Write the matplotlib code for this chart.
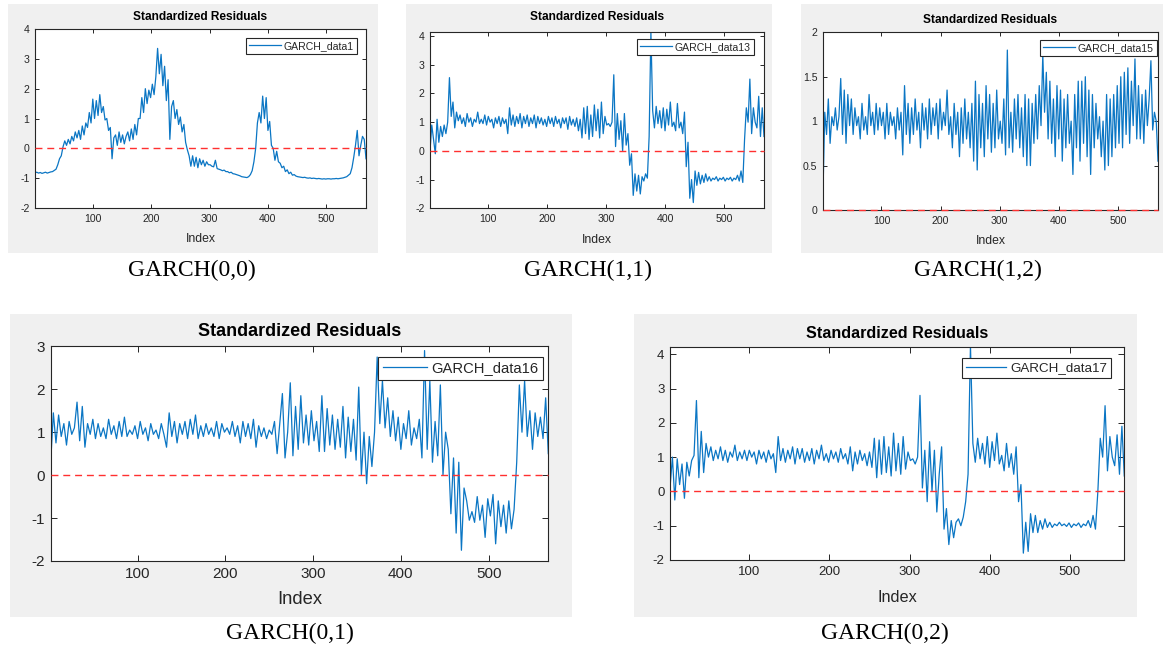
import numpy as np
import matplotlib
matplotlib.use("Agg")
import matplotlib.pyplot as plt
from matplotlib.patches import Rectangle

plt.rcParams["font.family"] = ["Liberation Sans", "DejaVu Sans"]

# Observation index: every third sample of the 568-point residual series
index = np.arange(1, 569, 3)

resid_garch00 = [
    -0.82, -0.80, -0.83, -0.81, -0.84, -0.82, -0.80, -0.83, -0.81, -0.79,
    -0.78, -0.74, -0.70, -0.55, -0.35, -0.25, 0.05, 0.25, 0.10, 0.30,
    0.15, 0.40, 0.25, 0.55, 0.35, 0.60, 0.30, 0.75, 0.45, 0.85,
    0.70, 1.20, 0.85, 1.65, 1.00, 1.60, 1.10, 1.80, 1.20, 1.40,
    0.95, 1.00, 0.60, 0.70, -0.35, 0.35, 0.45, 0.10, 0.55, 0.20,
    0.45, 0.15, 0.40, 0.55, 0.25, 0.65, 0.30, 0.80, 0.45, 1.00,
    1.00, 1.70, 1.20, 2.00, 1.50, 1.95, 1.70, 2.15, 1.80, 2.40,
    3.35, 2.50, 3.15, 2.10, 2.75, 1.60, 2.30, 0.30, 1.40, 1.60,
    1.00, 1.30, 0.80, 1.05, 0.55, 0.80, 0.20, -0.05, -0.25, -0.60,
    -0.25, -0.60, -0.30, -0.65, -0.35, -0.55, -0.40, -0.60, -0.45, -0.55,
    -0.55, -0.60, -0.62, -0.40, -0.68, -0.70, -0.72, -0.75, -0.73, -0.78,
    -0.78, -0.82, -0.80, -0.85, -0.86, -0.88, -0.90, -0.92, -0.95, -0.96,
    -0.97, -0.98, -0.95, -0.88, -0.75, -0.45, 0.00, 0.85, 1.20, 0.85,
    1.75, 1.00, 1.70, 0.60, 0.90, 0.10, 0.00, -0.40, -0.10, -0.45,
    -0.50, -0.65, -0.60, -0.78, -0.72, -0.85, -0.80, -0.90, -0.88, -0.93,
    -0.95, -0.96, -0.97, -0.98, -0.97, -0.99, -1.00, -0.99, -1.01, -1.00,
    -1.01, -1.02, -1.01, -1.02, -1.03, -1.02, -1.03, -1.02, -1.02, -1.03,
    -1.02, -1.02, -1.01, -1.02, -1.01, -1.00, -0.99, -0.97, -0.95, -0.90,
    -0.85, -0.65, -0.30, 0.10, 0.60, -0.25, 0.10, 0.40, 0.30, -0.35,
]

resid_garch11 = [
    0.00, 0.90, 0.40, -0.10, 1.10, 0.30, 0.85, 0.50, 0.90, 0.60,
    1.00, 2.55, 1.20, 1.70, 0.80, 1.35, 1.05, 1.25, 0.95, 1.15,
    0.85, 1.30, 1.00, 1.15, 0.85, 1.10, 1.00, 1.35, 0.95, 1.10,
    0.95, 1.25, 0.90, 1.20, 1.00, 1.10, 0.80, 1.15, 0.95, 1.20,
    0.85, 1.15, 0.95, 1.10, 0.60, 1.50, 0.90, 1.25, 0.85, 1.20,
    0.95, 1.30, 0.80, 1.20, 0.95, 1.25, 0.85, 1.15, 0.95, 1.25,
    0.80, 1.20, 0.95, 1.15, 0.90, 1.10, 0.85, 1.20, 0.95, 1.15,
    0.85, 1.20, 0.95, 1.10, 0.80, 1.15, 0.95, 1.15, 0.75, 1.20,
    0.90, 1.10, 0.85, 1.15, 0.70, 1.10, 0.45, 1.50, 0.60, 1.55,
    0.40, 1.25, 0.50, 1.60, 0.70, 1.45, 0.45, 1.70, 0.60, 1.20,
    0.90, 0.95, 0.85, 1.00, 2.65, 0.15, 1.30, 0.40, 1.05, 0.00,
    1.30, 0.20, 0.60, -0.50, -0.10, -1.55, -0.80, -1.40, -0.85, -1.50,
    -0.90, -1.05, -0.80, -0.95, 0.50, 4.15, 1.40, 0.80, 1.55, 0.95,
    1.40, 0.80, 1.50, 0.70, 1.45, 0.90, 1.70, 0.85, 1.00, 0.70,
    1.65, 0.80, 1.00, 0.60, 1.35, -0.55, 0.30, -1.65, -1.00, -1.80,
    -0.70, -1.20, -0.75, -1.15, -0.85, -1.10, -0.80, -1.05, -0.90, -1.05,
    -0.95, -1.00, -0.90, -1.05, -0.95, -1.00, -0.92, -1.05, -0.95, -1.00,
    -0.92, -1.05, -0.95, -1.00, -0.85, -1.05, -0.70, -1.10, 0.40, 1.50,
    1.00, 2.50, 0.60, 1.50, 1.00, 0.80, 1.90, 0.50, 1.50, 0.50,
]

resid_garch12 = [
    0.20, 1.10, 0.85, 1.25, 0.75, 1.05, 0.95, 1.15, 0.90, 1.05,
    1.48, 0.85, 1.35, 0.75, 1.30, 0.95, 1.25, 0.85, 1.15, 0.95,
    1.05, 0.80, 1.20, 0.90, 1.05, 0.85, 1.30, 0.95, 1.10, 0.85,
    1.20, 0.90, 1.15, 0.95, 1.10, 0.80, 1.20, 0.85, 1.10, 0.95,
    1.05, 0.80, 1.15, 0.90, 1.10, 0.62, 1.40, 0.85, 1.20, 0.75,
    1.15, 0.85, 1.25, 0.90, 1.10, 0.70, 1.20, 0.90, 1.15, 0.80,
    1.25, 0.85, 1.15, 0.95, 1.20, 0.80, 1.25, 0.90, 1.10, 0.95,
    1.35, 0.85, 1.05, 0.70, 1.20, 0.85, 1.10, 0.60, 1.15, 0.75,
    1.25, 0.80, 1.10, 0.70, 1.20, 0.55, 1.45, 0.45, 1.30, 0.70,
    1.20, 0.60, 1.40, 0.80, 1.30, 0.65, 1.20, 0.70, 1.35, 0.80,
    1.00, 0.75, 1.25, 0.62, 1.80, 0.70, 1.10, 0.65, 1.25, 0.80,
    1.30, 0.70, 1.15, 0.60, 1.30, 0.50, 1.25, 0.50, 1.20, 0.75,
    1.30, 0.80, 1.40, 0.95, 1.75, 1.10, 1.55, 0.80, 1.45, 0.75,
    1.25, 0.60, 1.40, 0.80, 1.35, 0.55, 1.25, 0.70, 1.30, 0.75,
    1.00, 0.40, 1.30, 0.70, 1.45, 0.55, 1.45, 0.75, 1.50, 0.60,
    1.35, 0.40, 1.30, 0.70, 1.20, 0.80, 1.05, 0.60, 1.00, 0.45,
    1.30, 0.50, 1.25, 0.60, 1.30, 0.70, 1.40, 0.75, 1.50, 0.70,
    1.55, 0.85, 1.60, 0.75, 1.45, 0.95, 1.70, 0.80, 1.40, 0.80,
    1.30, 0.75, 1.35, 0.95, 1.25, 1.68, 0.90, 1.10, 1.00, 0.55,
]

resid_garch01 = [
    0.30, 1.45, 0.75, 1.40, 0.90, 1.20, 0.70, 1.25, 0.95, 1.10,
    1.70, 0.80, 1.60, 0.65, 1.20, 0.95, 1.30, 0.85, 1.20, 0.90,
    1.10, 0.85, 1.30, 0.95, 1.15, 0.85, 1.25, 0.90, 1.35, 0.90,
    1.05, 0.95, 1.15, 0.85, 1.25, 0.95, 1.10, 0.80, 1.20, 0.95,
    1.05, 0.85, 1.20, 0.95, 0.65, 1.45, 0.90, 1.25, 0.75, 1.20,
    0.95, 1.25, 0.85, 1.30, 0.95, 1.40, 0.85, 1.15, 0.90, 1.20,
    0.95, 1.10, 0.90, 1.25, 0.85, 1.20, 1.00, 1.10, 0.95, 1.25,
    0.90, 1.15, 0.75, 1.25, 0.90, 1.20, 0.85, 1.30, 0.65, 1.15,
    0.90, 1.10, 0.85, 1.05, 0.95, 1.25, 0.50, 1.20, 1.90, 0.40,
    1.00, 2.15, 0.45, 1.60, 0.60, 1.85, 0.75, 1.40, 0.70, 1.50,
    0.80, 1.25, 0.55, 1.85, 0.55, 1.55, 0.70, 1.40, 0.60, 1.30,
    0.65, 1.60, 0.40, 1.35, 0.55, 1.30, 0.35, 2.05, 0.00, 1.00,
    -0.20, 0.90, 0.20, 1.00, 2.75, 1.20, 2.20, 1.10, 1.80, 0.90,
    1.50, 0.80, 1.35, 0.60, 1.20, 0.85, 1.50, 0.70, 1.10, 0.85,
    1.30, 0.40, 2.90, 0.60, 2.20, 0.30, 1.25, 0.45, 2.10, 0.00,
    1.00, 0.60, -0.90, 0.40, -1.35, 0.30, -1.75, -0.30, -0.60, -1.05,
    -0.85, -1.10, -0.50, -1.05, -0.70, -1.45, -0.55, -0.95, -0.45, -1.60,
    -0.60, -1.20, -0.70, -1.35, -0.60, -1.25, -0.80, 0.30, 2.10, 1.00,
    2.20, 0.90, 1.50, 0.60, 1.45, 0.90, 1.35, 0.85, 1.80, 0.50,
]

resid_garch02 = [
    0.10, 1.00, -0.25, 0.95, 0.20, 0.80, -0.20, 0.85, 0.45, 0.90,
    1.05, 2.65, 0.40, 1.75, 0.55, 1.40, 1.00, 1.30, 0.90, 1.20,
    0.95, 1.30, 0.90, 1.20, 0.85, 1.15, 1.00, 1.35, 0.90, 1.15,
    0.95, 1.20, 0.90, 1.20, 1.00, 1.15, 0.80, 1.20, 0.95, 1.15,
    0.85, 1.20, 0.95, 1.10, 0.55, 1.60, 0.90, 1.25, 0.85, 1.20,
    0.95, 1.30, 0.80, 1.25, 0.95, 1.25, 0.85, 1.15, 0.90, 1.25,
    0.80, 1.20, 0.95, 1.35, 0.90, 1.10, 0.85, 1.20, 0.95, 1.15,
    0.85, 1.25, 0.95, 1.10, 0.80, 1.30, 0.60, 1.15, 0.80, 1.20,
    0.90, 1.10, 0.75, 1.15, 0.70, 1.55, 0.40, 1.50, 0.50, 1.60,
    0.55, 1.30, 0.45, 1.70, 0.60, 1.40, 0.50, 1.60, 0.65, 1.15,
    0.90, 0.95, 0.80, 1.00, 2.80, 0.10, 1.20, -0.30, 1.45, 0.00,
    1.20, -0.60, 0.50, 1.30, -1.10, -0.50, -1.55, -0.85, -1.35, -0.90,
    -0.80, -1.00, -0.75, -0.30, 0.50, 4.25, 1.40, 0.85, 1.55, 0.95,
    1.40, 0.80, 1.60, 0.70, 1.45, 0.90, 1.70, 0.80, 1.05, 0.60,
    1.40, 0.70, 1.10, 0.50, 1.30, -0.30, 0.20, -1.80, -0.90, -1.75,
    -0.65, -1.20, -0.70, -1.20, -0.85, -1.10, -0.80, -1.05, -0.90, -1.05,
    -0.95, -1.00, -0.90, -1.00, -0.95, -1.02, -0.92, -1.05, -0.95, -1.00,
    -0.92, -1.05, -0.95, -1.00, -0.85, -1.05, -0.70, -1.10, 0.00, 1.55,
    1.00, 2.50, 0.60, 1.60, 1.00, 0.75, 1.65, 0.50, 1.90, 0.45,
]

series_labels = ["GARCH_data1", "GARCH_data13", "GARCH_data15", "GARCH_data16", "GARCH_data17"]
model_names = ["GARCH(0,0)", "GARCH(1,1)", "GARCH(1,2)", "GARCH(0,1)", "GARCH(0,2)"]
x_ticks = [100, 200, 300, 400, 500]

W, H = 1164, 650
fig = plt.figure(figsize=(W / 100, H / 100), dpi=100, facecolor="white")


def fig_rect(l, t, r, b):
    return [l / W, 1 - b / H, (r - l) / W, (b - t) / H]


panels = [
    dict(data=resid_garch00, frame=(8, 4, 378, 253), box=(35, 29, 366, 208),
         ylim=(-2, 4), yticks=[-2, -1, 0, 1, 2, 3, 4], caption_xy=(192, 270),
         title_y=17, xlabel_y=239, legend_tr=(357, 38),
         fs_tick=7.6, fs_label=8.8, fs_title=8.6, fs_leg=7.6, tick_len=3),
    dict(data=resid_garch11, frame=(406, 4, 772, 253), box=(430, 31.7, 764, 208.3),
         ylim=(-2, 4.15), yticks=[-2, -1, 0, 1, 2, 3, 4], caption_xy=(588, 270),
         title_y=17, xlabel_y=240, legend_tr=(754, 39),
         fs_tick=7.6, fs_label=8.8, fs_title=8.6, fs_leg=7.6, tick_len=3),
    dict(data=resid_garch12, frame=(801, 4, 1163, 253), box=(823, 32.3, 1158, 210),
         ylim=(0, 2), yticks=[0, 0.5, 1, 1.5, 2], caption_xy=(978, 270),
         title_y=20, xlabel_y=241, legend_tr=(1157, 40),
         fs_tick=7.6, fs_label=8.8, fs_title=8.6, fs_leg=7.6, tick_len=3),
    dict(data=resid_garch01, frame=(10, 314, 572, 617), box=(50.7, 346.3, 548.3, 561),
         ylim=(-2, 3), yticks=[-2, -1, 0, 1, 2, 3], caption_xy=(290, 633),
         title_y=332, xlabel_y=600, legend_tr=(543, 357),
         fs_tick=11, fs_label=13.2, fs_title=13, fs_leg=10.6, tick_len=4.5),
    dict(data=resid_garch02, frame=(634, 314, 1137, 617), box=(670, 346.7, 1124.3, 560),
         ylim=(-2, 4.22), yticks=[-2, -1, 0, 1, 2, 3, 4], caption_xy=(885, 633),
         title_y=333, xlabel_y=597, legend_tr=(1111, 358),
         fs_tick=9.5, fs_label=11.7, fs_title=11.6, fs_leg=9.6, tick_len=4),
]

axis_color = "#262626"
line_color = "#0B76C4"

for p, label, name in zip(panels, series_labels, model_names):
    fl, ft, fr, fb = p["frame"]
    fig.add_artist(Rectangle((fl / W, 1 - fb / H), (fr - fl) / W, (fb - ft) / H,
                             transform=fig.transFigure, facecolor="#F0F0F0",
                             edgecolor="none", zorder=-1))
    l, t, r, b = p["box"]
    ax = fig.add_axes(fig_rect(l, t, r, b))
    ax.set_facecolor("white")
    ax.plot(index, p["data"], color=line_color, lw=0.9, label=label, zorder=2)
    ax.axhline(0, color="#FF3030", lw=1.0, dashes=(5, 3.5), zorder=3, clip_on=False)
    ax.set_xlim(1, 568)
    ax.set_ylim(*p["ylim"])
    ax.set_xticks(x_ticks)
    ax.set_yticks(p["yticks"])
    ax.set_yticklabels([f"{v:g}" for v in p["yticks"]])
    ax.tick_params(direction="in", top=True, right=True, length=p["tick_len"],
                   width=0.7, color=axis_color, labelcolor=axis_color,
                   labelsize=p["fs_tick"], pad=4)
    for s in ax.spines.values():
        s.set_color(axis_color)
        s.set_linewidth(0.8)

    cx = (l + r) / 2
    fig.text(cx / W, 1 - p["title_y"] / H, "Standardized Residuals", ha="center",
             va="center", fontsize=p["fs_title"], fontweight="bold", color="black")
    fig.text(cx / W, 1 - p["xlabel_y"] / H, "Index", ha="center", va="center",
             fontsize=p["fs_label"], color=axis_color)

    lx, ly = p["legend_tr"]
    leg = ax.legend(loc="upper right", bbox_to_anchor=(lx / W, 1 - ly / H),
                    bbox_transform=fig.transFigure, borderaxespad=0,
                    fontsize=p["fs_leg"], frameon=True, fancybox=False,
                    handlelength=3.0, handletextpad=0.3, borderpad=0.3,
                    framealpha=1)
    leg.get_frame().set_edgecolor(axis_color)
    leg.get_frame().set_linewidth(0.8)
    for txt in leg.get_texts():
        txt.set_color(axis_color)

    capx, capy = p["caption_xy"]
    fig.text(capx / W, 1 - capy / H, name, ha="center", va="center",
             fontsize=17, family=["Liberation Serif", "DejaVu Serif"], color="black")

fig.savefig("out.png", dpi=100, facecolor="white")
